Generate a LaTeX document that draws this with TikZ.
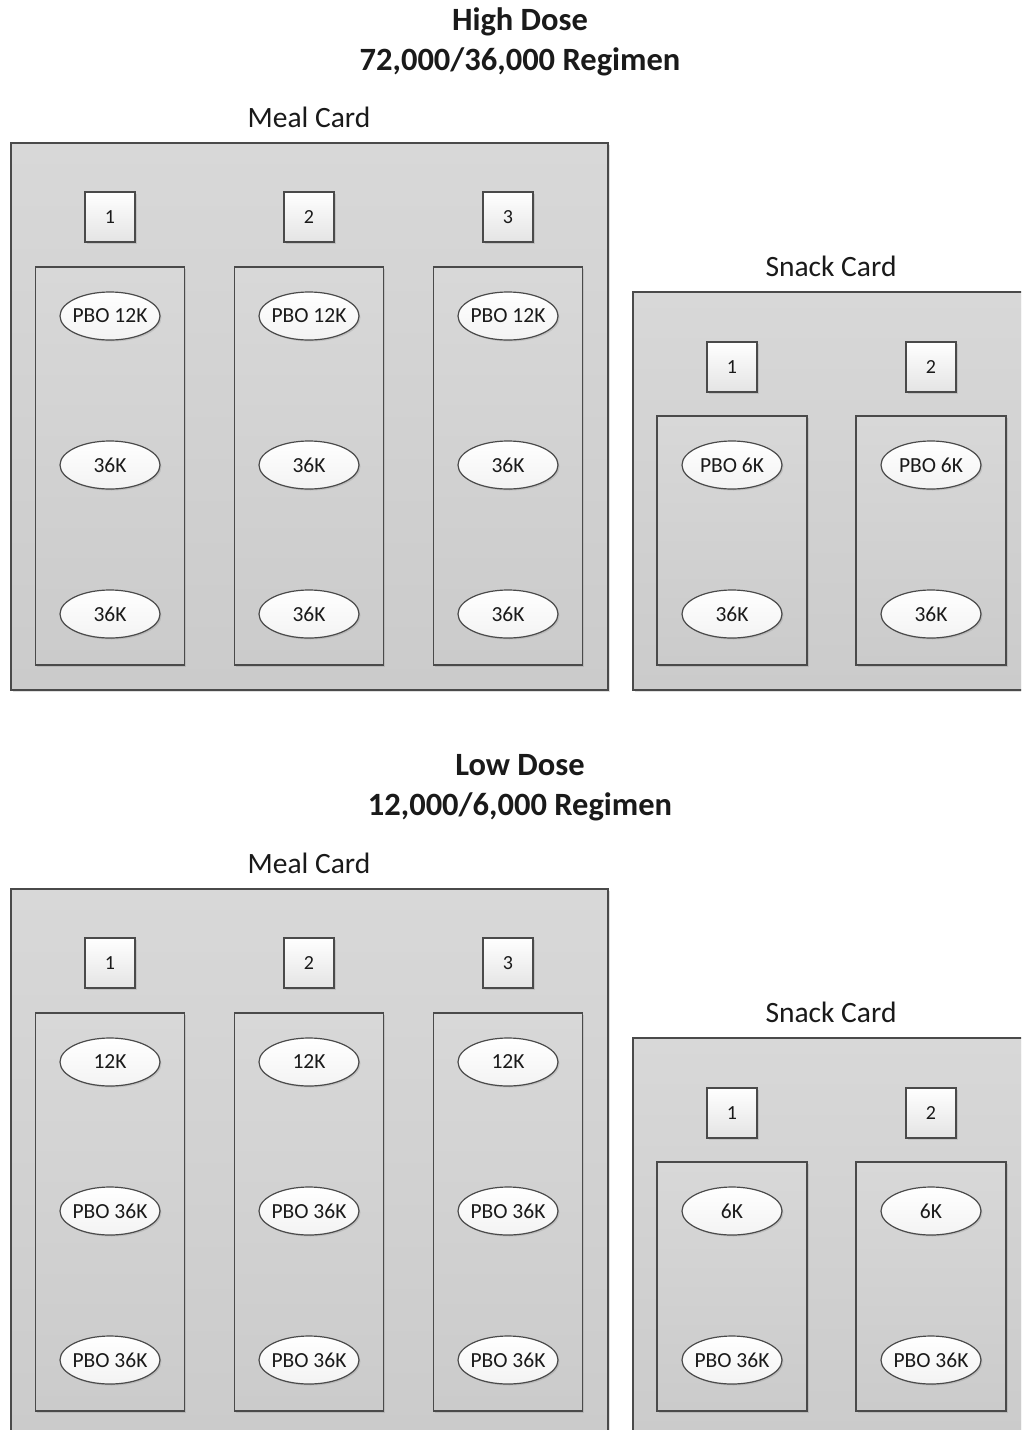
\documentclass[tikz,border=0pt]{standalone}
\usepackage{fontspec}
\setmainfont{Carlito}
\usetikzlibrary{shapes.geometric,shadows}
\definecolor{lineclr}{HTML}{4A4A4A}
\definecolor{cardtop}{HTML}{D8D8D8}
\definecolor{cardbot}{HTML}{CBCBCB}
\definecolor{boxbot}{HTML}{E4E4E4}
\definecolor{pillbot}{HTML}{F3F3F3}
\definecolor{txt}{HTML}{1A1A1A}
\newcommand\pilltext[1]{\makebox[0pt]{#1}}
\begin{document}
\begin{tikzpicture}[x=1pt,y=-1pt,
  card/.style={draw=lineclr, line width=1.5pt, top color=cardtop, bottom color=cardbot,
    anchor=north west, inner sep=0pt, outer sep=0pt,
    drop shadow={shadow xshift=1.5pt, shadow yshift=-1.5pt, opacity=0.25}},
  colbox/.style={draw=lineclr, line width=1.5pt, top color=cardtop, bottom color=cardbot,
    anchor=north west, inner sep=0pt, outer sep=0pt,
    drop shadow={shadow xshift=1.5pt, shadow yshift=-1.5pt, opacity=0.25}},
  numbox/.style={draw=lineclr, line width=1.5pt, top color=white, bottom color=boxbot,
    minimum width=50pt, minimum height=50pt, inner sep=0pt, text=txt,
    font=\fontsize{20}{24}\selectfont,
    drop shadow={shadow xshift=1.5pt, shadow yshift=-1.5pt, opacity=0.25}},
  pill/.style={ellipse, draw=lineclr, line width=1.2pt, top color=white, bottom color=pillbot,
    minimum width=100pt, minimum height=48pt, inner sep=0pt, text=txt,
    font=\fontsize{21.5}{24}\selectfont,
    drop shadow={shadow xshift=1.5pt, shadow yshift=-1.5pt, opacity=0.25}},
  cardtitle/.style={font=\fontsize{29.5}{32}\selectfont, text=txt, inner sep=0pt},
  heading/.style={font=\bfseries\fontsize{32.5}{40}\selectfont, text=txt, align=center, inner sep=0pt}
]
\clip (0,0) rectangle (1021,1430);
\fill[white] (0,0) rectangle (1021,1430);

\node[heading] (hihead) at (520,42) {High Dose\\72,000/36,000 Regimen};
\node[heading] (lohead) at (520,788) {Low Dose\\12,000/6,000 Regimen};

\foreach \p/\oy/\ma/\mb/\sa/\sb in {hi/0/PBO 12K/36K/PBO 6K/36K, lo/746/12K/PBO 36K/6K/PBO 36K} {
  \node[card, minimum width=597pt, minimum height=547pt] (meal\p) at (11,143+\oy) {};
  \node[cardtitle] (mealt\p) at (309,117+\oy) {Meal Card};
  \node[card, minimum width=420pt, minimum height=398pt] (snack\p) at (633,292+\oy) {};
  \node[cardtitle] (snackt\p) at (831,266+\oy) {Snack Card};
  \foreach \i/\x in {1/110,2/309,3/508} {
    \node[numbox] (mn\p\i) at (\x,217+\oy) {\i};
    \node[colbox, minimum width=149pt, minimum height=398pt] (mc\p\i) at (\x-74.5,267+\oy) {};
    \node[pill] (mpa\p\i) at (\x,316+\oy) {\pilltext{\ma}};
    \node[pill] (mpb\p\i) at (\x,465+\oy) {\pilltext{\mb}};
    \node[pill] (mpc\p\i) at (\x,614+\oy) {\pilltext{\mb}};
  }
  \foreach \i/\x in {1/732,2/931} {
    \node[numbox] (sn\p\i) at (\x,367+\oy) {\i};
    \node[colbox, minimum width=150pt, minimum height=249pt] (sc\p\i) at (\x-75,416+\oy) {};
    \node[pill] (spa\p\i) at (\x,465+\oy) {\pilltext{\sa}};
    \node[pill] (spb\p\i) at (\x,614+\oy) {\pilltext{\sb}};
  }
}
\end{tikzpicture}
\end{document}
